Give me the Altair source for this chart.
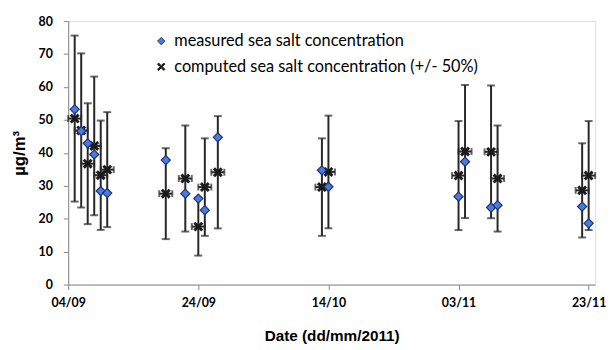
import altair as alt
import pandas as pd

# ---- data ----
dates = ["2011-09-05", "2011-09-06", "2011-09-07", "2011-09-08", "2011-09-09", "2011-09-10",
         "2011-09-19", "2011-09-22", "2011-09-24", "2011-09-25", "2011-09-27",
         "2011-10-13", "2011-10-14",
         "2011-11-03", "2011-11-04", "2011-11-08", "2011-11-09",
         "2011-11-22", "2011-11-23"]
measured = [53.2, 46.6, 42.9, 39.5, 28.4, 27.8,
            37.8, 27.6, 26.1, 22.6, 44.7,
            34.7, 29.7,
            26.7, 37.3, 23.4, 24.1,
            23.7, 18.6]
computed = [50.4, 46.8, 36.7, 42.1, 33.2, 34.9,
            27.6, 32.2, 17.6, 29.6, 34.1,
            29.6, 34.2,
            33.1, 40.4, 40.3, 32.2,
            28.6, 33.1]
tick_days = [0, 20, 40, 60, 80]
tick_labels = ["04/09", "24/09", "14/10", "03/11", "23/11"]
y_ticks = [0, 10, 20, 30, 40, 50, 60, 70, 80]
series_names = ["measured sea salt concentration",
                "computed sea salt concentration (+/- 50%)"]

origin = pd.Timestamp("2011-09-04")
day = [(pd.Timestamp(d) - origin).days for d in dates]
df = pd.DataFrame({"day": day, "measured": measured, "computed": computed})

label_expr = ""
for v, lab in zip(tick_days, tick_labels):
    label_expr += f"datum.value == {v} ? '{lab}' : "
label_expr += "''"

LABEL_FONT = "Lato"
TITLE_FONT = "Liberation Sans"
BAR = "#262626"

xscale = alt.Scale(domain=[0, 81], nice=False, zero=False)
yscale = alt.Scale(domain=[0, 80], nice=False)

x_axis = alt.Axis(values=tick_days, labelExpr=label_expr, title="Date (dd/mm/2011)",
                  grid=False, tickSize=5, labelPadding=7, labelFont=LABEL_FONT,
                  labelFontWeight="bold", labelFontSize=12.5, labelColor="#000",
                  titleFont=TITLE_FONT, titleFontSize=15.5, titleFontWeight="bold",
                  titleY=52, titleBaseline="middle", titleColor="#000",
                  labelFlush=False, labelOverlap=False)
y_axis = alt.Axis(values=y_ticks, title="µg/m³", grid=False, tickSize=5,
                  labelPadding=11, labelFont=LABEL_FONT, labelFontWeight="bold",
                  labelFontSize=12.5, labelColor="#000", labelOverlap="greedy",
                  labelSeparation=0, labelBound=False, labelFlush=False,
                  titleFont=TITLE_FONT, titleFontSize=17, titleFontWeight="bold",
                  titleX=-44, titleBaseline="alphabetic", titleAngle=-90, titleColor="#000")


def Y(field):
    return alt.Y(field, scale=yscale, axis=y_axis)


def Xq(field):
    return alt.X(field, scale=xscale, axis=x_axis)


base = alt.Chart(df)

# vertical +/-50% error bars
err = base.transform_calculate(lo="datum.computed*0.5", hi="datum.computed*1.5").mark_rule(
    color=BAR, strokeWidth=2).encode(
    x=Xq("day:Q"), y=Y("lo:Q"), y2="hi:Q")

caps = base.transform_calculate(lo="datum.computed*0.5", hi="datum.computed*1.5").transform_fold(
    ["lo", "hi"], as_=["k", "v"]).mark_tick(
    orient="horizontal", size=8, thickness=2, color=BAR).encode(
    x=Xq("day:Q"), y=Y("v:Q"))

# horizontal +/- 1 day bars on computed markers
hbar = base.transform_calculate(xl="datum.day-1", xr="datum.day+1").mark_rule(
    color=BAR, strokeWidth=2).encode(x=Xq("xl:Q"), x2="xr:Q", y=Y("computed:Q"))
hcaps = base.transform_calculate(xl="datum.day-1", xr="datum.day+1").transform_fold(
    ["xl", "xr"], as_=["k", "v"]).mark_tick(
    orient="vertical", size=7, thickness=2, color=BAR).encode(
    x=Xq("v:Q"), y=Y("computed:Q"))

XPATH = "M0,-0.3L0.7,-1L1,-0.7L0.3,0L1,0.7L0.7,1L0,0.3L-0.7,1L-1,0.7L-0.3,0L-1,-0.7L-0.7,-1Z"
shape_scale = alt.Scale(domain=series_names, range=["diamond", XPATH])
fill_scale = alt.Scale(domain=series_names, range=["#4a7fd0", "#1a1a1a"])
stroke_scale = alt.Scale(domain=series_names, range=["#1a2f8f", "#1a1a1a"])
legend = alt.Legend(title=None, orient="none", legendX=86, legendY=12, padding=0,
                    labelFont=LABEL_FONT, labelFontSize=16.5, labelColor="#000",
                    labelLimit=500, symbolSize=55, rowPadding=9, labelOffset=5,
                    symbolStrokeWidth=1)


def pts(field, name, size):
    return base.transform_calculate(series=f"'{name}'").mark_point(
        filled=True, size=size, strokeWidth=1.2, opacity=1).encode(
        x=Xq("day:Q"), y=Y(f"{field}:Q"),
        shape=alt.Shape("series:N", scale=shape_scale, legend=legend),
        fill=alt.Fill("series:N", scale=fill_scale, legend=legend),
        stroke=alt.Stroke("series:N", scale=stroke_scale, legend=legend))


chart = alt.layer(
    err, caps, hbar, hcaps,
    pts("computed", series_names[1], 70),
    pts("measured", series_names[0], 85),
).properties(
    width=534, height=267,
    autosize="none",
    padding={"left": 61, "top": 11, "right": 12, "bottom": 62},
).configure_view(
    stroke="#a6a6a6", strokeWidth=2
).configure_axis(
    domainColor="#a6a6a6", domainWidth=2, tickColor="#a6a6a6", tickWidth=1.5,
    labelOverlap=False
).configure(background="white")

chart.save("out.html", embed_options={"renderer": "svg", "actions": False})
